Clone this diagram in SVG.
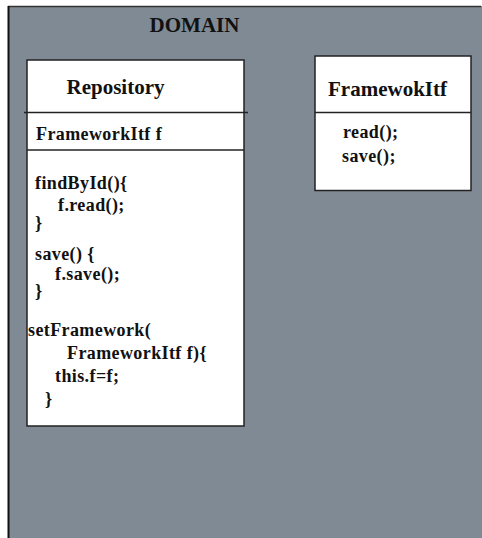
<svg xmlns="http://www.w3.org/2000/svg" width="482" height="538" viewBox="0 0 482 538">
<style>
.t{font-family:"Liberation Serif","Times New Roman",serif;font-weight:bold;fill:#111}
.title{font-size:21px}
.code{font-size:18px;letter-spacing:0.4px}
.box{fill:#fff;stroke:#222;stroke-width:1.5}
.ln{stroke:#222;stroke-width:1.5}
</style>
<rect width="482" height="538" fill="#fff"/>
<g id="domain">
<rect x="8" y="6" width="474" height="532" fill="#808a94"/>
<line x1="8" y1="6.5" x2="481" y2="6.5" stroke="#333" stroke-width="1.5"/>
<line x1="8.5" y1="6" x2="8.5" y2="538" stroke="#111" stroke-width="2"/>
<text class="t title" x="194.5" y="31.5" text-anchor="middle">DOMAIN</text>
</g>
<g id="repository">
<rect class="box" x="27" y="60" width="217" height="366"/>
<line class="ln" x1="24" y1="112.5" x2="248" y2="112.5"/>
<line class="ln" x1="27" y1="150" x2="244" y2="150"/>
<text class="t title" x="115.5" y="94" text-anchor="middle">Repository</text>
<text class="t code" x="36" y="140">FrameworkItf f</text>
<text class="t code" x="35" y="189">findById(){</text>
<text class="t code" x="58" y="211">f.read();</text>
<text class="t code" x="35" y="229">}</text>
<text class="t code" x="35" y="260">save() {</text>
<text class="t code" x="55" y="280">f.save();</text>
<text class="t code" x="35" y="297">}</text>
<text class="t code" x="28" y="336">setFramework(</text>
<text class="t code" x="67" y="359">FrameworkItf f){</text>
<text class="t code" x="55" y="382">this.f=f;</text>
<text class="t code" x="45" y="405">}</text>
</g>
<g id="frameworkitf">
<rect class="box" x="315" y="56" width="156" height="134.5"/>
<line class="ln" x1="315" y1="112.5" x2="471" y2="112.5"/>
<text class="t title" x="387.5" y="96" text-anchor="middle">FramewokItf</text>
<text class="t code" x="343" y="138">read();</text>
<text class="t code" x="342" y="162">save();</text>
</g>
<g id="connectors"></g>
</svg>
